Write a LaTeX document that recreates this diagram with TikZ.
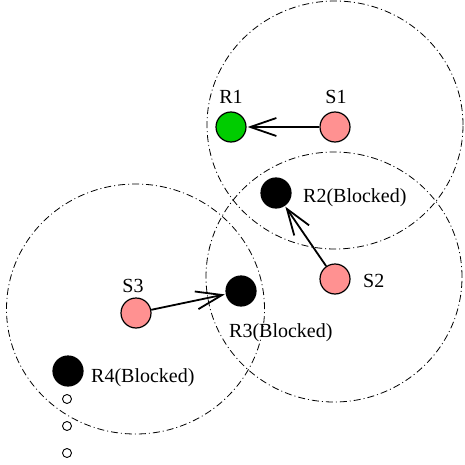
\documentclass[tikz,border=0pt]{standalone}
\usepackage{fontspec}
\setmainfont{Liberation Serif}
\usetikzlibrary{arrows.meta}
\definecolor{recvgreen}{RGB}{0,204,0}
\definecolor{sendpink}{RGB}{255,145,145}
\begin{document}
\begin{tikzpicture}[x=1pt,y=-1pt,
  coverage/.style={draw, line width=0.8pt, dash pattern=on 7pt off 3pt on 1pt off 3pt},
  station/.style={circle, draw, line width=1.2pt, minimum size=30pt, inner sep=0pt},
  sender/.style={station, fill=sendpink},
  receiver/.style={station, fill=recvgreen},
  blocked/.style={station, fill=black},
  dot/.style={circle, draw, line width=0.9pt, fill=white, minimum size=9pt, inner sep=0pt},
  lbl/.style={inner sep=0pt, font=\fontsize{20}{24}\selectfont},
  sig/.style={-{Straight Barb[length=26pt,width=18pt,line width=1.8pt]}, line width=1.8pt, shorten >=1pt}
]
\useasboundingbox (0,0) rectangle (464,465);

% transmission ranges of the three senders
\draw[coverage] (335,125) ellipse [x radius=128pt, y radius=124pt];
\draw[coverage] (334,277) ellipse [x radius=128pt, y radius=125pt];
\draw[coverage] (135.5,309) ellipse [x radius=129pt, y radius=125pt];

% stations
\node[receiver] (R1) at (231,127) {};
\node[sender]   (S1) at (335,127) {};
\node[blocked]  (R2) at (276,193) {};
\node[sender]   (S2) at (335,279) {};
\node[blocked]  (R3) at (241,291) {};
\node[sender]   (S3) at (136,313) {};
\node[blocked]  (R4) at (68,371) {};
\node[dot] (d1) at (67,399) {};
\node[dot] (d2) at (67,426) {};
\node[dot] (d3) at (67,453) {};

% labels
\node[lbl, anchor=base] (lR1) at (231,103.5) {R1};
\node[lbl, anchor=base] (lS1) at (336,103.5) {S1};
\node[lbl, anchor=base west] (lR2) at (303,202) {R2(Blocked)};
\node[lbl, anchor=base west] (lS2) at (363,287) {S2};
\node[lbl, anchor=base west] (lR3) at (229,337) {R3(Blocked)};
\node[lbl, anchor=base] (lS3) at (133,292) {S3};
\node[lbl, anchor=base west] (lR4) at (91,382) {R4(Blocked)};

% transmissions
\draw[sig] (S1) -- (R1);
\draw[sig] (S2) -- (R2);
\draw[sig] (S3) -- (R3);
\end{tikzpicture}
\end{document}
